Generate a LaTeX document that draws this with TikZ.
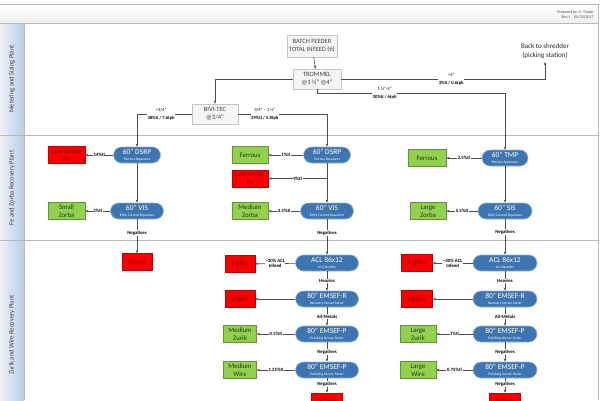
\documentclass[tikz,border=0pt]{standalone}
\usepackage{fontspec}
\setmainfont{Carlito}
\usepackage{tikz}
\usetikzlibrary{arrows.meta,positioning}
\definecolor{pillblue}{RGB}{62,116,176}
\definecolor{pillrim}{RGB}{150,180,215}
\definecolor{outred}{RGB}{250,0,0}
\definecolor{outredtxt}{RGB}{125,0,0}
\definecolor{outgreen}{RGB}{146,208,80}
\definecolor{greentxt}{RGB}{35,60,20}
\definecolor{laneblue}{RGB}{184,204,228}
\newcommand{\pillsub}[1]{{\fontsize{3.6}{4}\selectfont #1}}

\begin{document}
\begin{tikzpicture}[x=1pt,y=-1pt,
  lane/.style={draw=gray!55,line width=0.8pt},
  lanetxt/.style={rotate=90,font=\fontsize{6.5}{7}\selectfont,text=black!75},
  proc/.style={draw=gray!45,fill=gray!8,text=black!75,align=center,inner sep=0pt,
               minimum height=20pt,font=\fontsize{6.5}{8.5}\selectfont},
  pill/.style={draw=pillrim,fill=pillblue,text=white,rounded corners=8pt,line width=0.6pt,
               minimum height=16pt,inner sep=0pt,align=center,font=\fontsize{7.5}{6.5}\selectfont},
  outbox/.style={draw,align=center,inner sep=0.5pt,minimum height=17pt,line width=0.5pt,
                 font=\fontsize{6.8}{8}\selectfont},
  redbox/.style={outbox,fill=outred,draw=red!75!black,text=outredtxt},
  greenbox/.style={outbox,fill=outgreen,draw=outgreen!70!black,text=greentxt},
  lbl/.style={fill=white,inner sep=0.6pt,font=\fontsize{4.8}{5.2}\selectfont\bfseries,align=center},
  sizelbl/.style={fill=white,inner sep=0.6pt,font=\fontsize{4.6}{7.5}\selectfont,align=center},
  arr/.style={-{Stealth[length=3.2pt,width=2.6pt]},draw=black!70,line width=0.6pt}
]
\useasboundingbox (0,0) rectangle (600,400);

% swimlanes
\fill[top color=white,bottom color=gray!12] (0,4) rectangle (598,23);
\shade[left color=laneblue!25,right color=laneblue] (0,23) rectangle (24,400);
\draw[lane] (0,4) -- (598,4) -- (598,400);
\draw[lane] (0,23) -- (598,23);
\draw[lane] (0,135) -- (598,135);
\draw[lane] (0,240) -- (598,240);
\draw[lane] (24,23) -- (24,400);
\node[anchor=north east,align=right,font=\fontsize{4}{5}\selectfont,text=black!70] (prep) at (597,7)
  {Prepared by: E. Tirado\\Rev.1\quad 05/25/2017};
\node[lanetxt] (lane1) at (12,79) {Metering and Sizing Plant};
\node[lanetxt] (lane2) at (12,188) {Fe and Zorba Recovery Plant};
\node[lanetxt] (lane3) at (12,335) {Zurik and Wire Recovery Plant};

% metering and sizing
\node[proc,minimum width=50pt,minimum height=22pt] (feeder) at (312,46) {BATCH FEEDER\\TOTAL INFEED (ti)};
\node[proc,minimum width=48pt] (trommel) at (317,79) {TROMMEL\\@1 ½” @4”};
\node[proc,minimum width=46pt] (bivi) at (215,114) {BIVI-TEC\\@3/4”};
\node[align=center,font=\fontsize{7}{9}\selectfont,text=black!85] (shredder) at (545,51)
  {Back to shredder\\(picking station)};

% fe and zorba
\node[pill,minimum width=47pt] (dsrp1) at (137,155) {60” DSRP\\\pillsub{Ferrous Separator}};
\node[pill,minimum width=53pt] (vis1) at (137,211) {60” VIS\\\pillsub{Eddy Current Separator}};
\node[redbox,minimum width=37pt] (lowfe1) at (66.5,155) {Low Grade\\Fe};
\node[greenbox,minimum width=37pt] (zorba1) at (66.5,211) {Small\\Zorba};

\node[pill,minimum width=47pt] (dsrp2) at (327,155) {60” DSRP\\\pillsub{Ferrous Separator}};
\node[pill,minimum width=53pt] (vis2) at (327,211) {60” VIS\\\pillsub{Eddy Current Separator}};
\node[greenbox,minimum width=36pt] (ferrous2) at (250,155) {Ferrous};
\node[redbox,minimum width=36pt] (lowfe2) at (250,178.5) {Low Grade\\Fe};
\node[greenbox,minimum width=36pt] (zorba2) at (250,211) {Medium\\Zorba};

\node[pill,minimum width=46pt] (tmp) at (505,158) {60” TMP\\\pillsub{Ferrous Separator}};
\node[pill,minimum width=54pt] (sis) at (505,211) {60” SIS\\\pillsub{Eddy Current Separator}};
\node[greenbox,minimum width=38pt] (ferrous3) at (427,158) {Ferrous};
\node[greenbox,minimum width=36pt] (zorba3) at (428,211) {Large\\Zorba};

% zurik and wire
\node[redbox,minimum width=30pt] (waste1) at (137,262) {Waste};

\node[pill,minimum width=63pt] (acl2) at (327,263) {ACL 86x12\\\pillsub{Air Classifier}};
\node[pill,minimum width=63pt] (emr2) at (327,299) {80” EMSEF-R\\\pillsub{Recovery Sensor Sorter}};
\node[pill,minimum width=63pt] (empa2) at (327,334) {80” EMSEF-P\\\pillsub{Polishing Sensor Sorter}};
\node[pill,minimum width=63pt] (empb2) at (327,370) {80” EMSEF-P\\\pillsub{Polishing Sensor Sorter}};
\node[redbox,minimum width=31pt] (tail2) at (327,401.5) {Tailings};
\node[redbox,minimum width=30pt] (lights2) at (240,264) {Lights};
\node[redbox,minimum width=30pt] (waste2) at (240,299) {Waste};
\node[greenbox,minimum width=33pt] (zurik2) at (240,334) {Medium\\Zurik};
\node[greenbox,minimum width=33pt] (wire2) at (240,370) {Medium\\Wire};

\node[pill,minimum width=64pt] (acl3) at (505,263) {ACL 86x12\\\pillsub{Air Classifier}};
\node[pill,minimum width=64pt] (emr3) at (505,299) {80” EMSEF-R\\\pillsub{Recovery Sensor Sorter}};
\node[pill,minimum width=64pt] (empa3) at (505,334) {80” EMSEF-P\\\pillsub{Polishing Sensor Sorter}};
\node[pill,minimum width=64pt] (empb3) at (505,370) {80” EMSEF-P\\\pillsub{Polishing Sensor Sorter}};
\node[redbox,minimum width=31pt] (tail3) at (505,401.5) {Tailings};
\node[redbox,minimum width=31pt] (lights3) at (417,263) {Lights};
\node[redbox,minimum width=31pt] (waste3) at (417,299) {Waste};
\node[greenbox,minimum width=36pt] (zurik3) at (418,334) {Large\\Zurik};
\node[greenbox,minimum width=36pt] (wire3) at (418,370) {Large\\Wire};

% flows
\draw[arr] (feeder) -- (trommel);
\draw[arr] (trommel.west) -| (bivi.north);
\draw[arr] (trommel.east) -| node[sizelbl,pos=.27] {>4”\\\textbf{3\%ti / 0.6tph}} (shredder.south);
\draw[arr] (trommel.south) -- ++(0,4) -| node[sizelbl,pos=.18] {1 ½”-4”\\\textbf{30\%ti / 6tph}} (tmp.north);
\draw[arr] (bivi.west) -| node[sizelbl,pos=.28] {<3/4”\\\textbf{38\%ti / 7.6tph}} (dsrp1.north);
\draw[arr] (bivi.east) -| node[sizelbl,pos=.15] {3/4” – 1 ½”\\\textbf{29\%ti / 5.8tph}} (dsrp2.north);

\draw[arr] (dsrp1) -- node[lbl] {14\%ti} (lowfe1);
\draw[arr] (dsrp1) -- (vis1);
\draw[arr] (vis1) -- node[lbl] {2\%ti} (zorba1);
\draw[arr] (vis1) -- node[lbl,pos=.4] {Negatives} (waste1);

\coordinate (br2) at (dsrp2 |- lowfe2);
\draw[arr] (dsrp2) -- node[lbl] {1\%ti} (ferrous2);
\draw[arr] (dsrp2) -- (vis2);
\draw[arr] (br2) -- node[lbl] {9\%ti} (lowfe2);
\draw[arr] (vis2) -- node[lbl] {3.5\%ti} (zorba2);
\draw[arr] (vis2) -- node[lbl,pos=.39] {Negatives} (acl2);

\draw[arr] (tmp) -- node[lbl] {2.5\%ti} (ferrous3);
\draw[arr] (tmp) -- (sis);
\draw[arr] (sis) -- node[lbl] {5.5\%ti} (zorba3);
\draw[arr] (sis) -- node[lbl,pos=.36] {Negatives} (acl3);

\draw[arr] (acl2) -- node[lbl] {\textasciitilde 30\% ACL\\Infeed} (lights2);
\draw[arr] (acl2) -- node[lbl] {Heavies} (emr2);
\draw[arr] (emr2) -- (waste2);
\draw[arr] (emr2) -- node[lbl] {All-Metals} (empa2);
\draw[arr] (empa2) -- node[lbl] {0.5\%ti} (zurik2);
\draw[arr] (empa2) -- node[lbl] {Negatives} (empb2);
\draw[arr] (empb2) -- node[lbl] {1.25\%ti} (wire2);
\draw[arr] (empb2) -- node[lbl,pos=.4] {Negatives} (tail2);

\draw[arr] (acl3) -- node[lbl] {\textasciitilde 30\% ACL\\Infeed} (lights3);
\draw[arr] (acl3) -- node[lbl] {Heavies} (emr3);
\draw[arr] (emr3) -- (waste3);
\draw[arr] (emr3) -- node[lbl] {All-Metals} (empa3);
\draw[arr] (empa3) -- node[lbl] {1\%ti} (zurik3);
\draw[arr] (empa3) -- node[lbl] {Negatives} (empb3);
\draw[arr] (empb3) -- node[lbl] {0.75\%ti} (wire3);
\draw[arr] (empb3) -- node[lbl,pos=.4] {Negatives} (tail3);
\end{tikzpicture}
\end{document}
